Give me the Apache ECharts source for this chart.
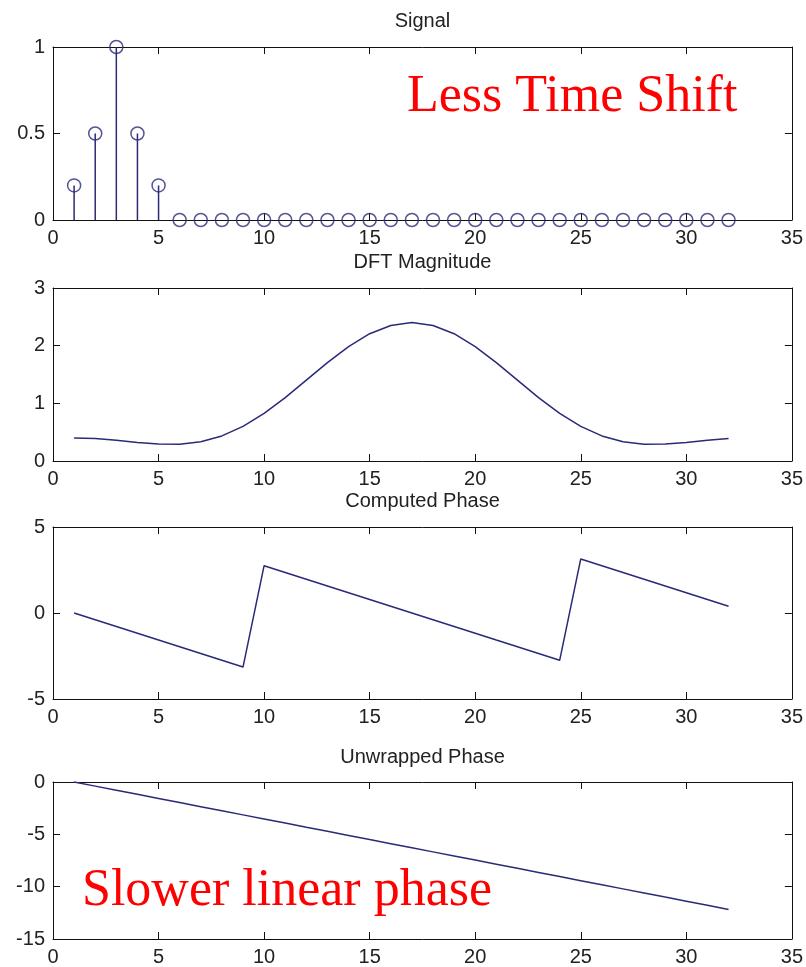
<!DOCTYPE html>
<html><head><meta charset="utf-8">
<script src="https://cdn.jsdelivr.net/npm/echarts@6/dist/echarts.min.js"></script>
<style>html,body{margin:0;padding:0;background:#fff}#c{width:806px;height:967px}</style>
</head><body><div id="c"></div>
<script>
// ---- data ----
const sampleIndex = [1,2,3,4,5,6,7,8,9,10,11,12,13,14,15,16,17,18,19,20,21,22,23,24,25,26,27,28,29,30,31,32];
const signal = [0.2,0.5,1,0.5,0.2,0,0,0,0,0,0,0,0,0,0,0,0,0,0,0,0,0,0,0,0,0,0,0,0,0,0,0];
const dftMagnitude = [0.4,0.389,0.359,0.322,0.293,0.291,0.335,0.435,0.6,0.826,1.1,1.403,1.707,1.985,2.207,2.35,2.4,2.35,2.207,1.985,1.707,1.403,1.1,0.826,0.6,0.435,0.335,0.291,0.293,0.322,0.359,0.389];
const computedPhase = [0,-0.393,-0.785,-1.178,-1.571,-1.963,-2.356,-2.749,-3.142,2.749,2.356,1.963,1.571,1.178,0.785,0.393,0,-0.393,-0.785,-1.178,-1.571,-1.963,-2.356,-2.749,3.142,2.749,2.356,1.963,1.571,1.178,0.785,0.393];
const unwrappedPhase = [0,-0.393,-0.785,-1.178,-1.571,-1.963,-2.356,-2.749,-3.142,-3.534,-3.927,-4.32,-4.712,-5.105,-5.498,-5.89,-6.283,-6.676,-7.069,-7.461,-7.854,-8.247,-8.639,-9.032,-9.425,-9.817,-10.21,-10.603,-10.996,-11.388,-11.781,-12.174];
const xTickRange = [0, 35, 5];
const yTickRanges = [[0, 1, 0.5], [0, 3, 1], [-5, 5, 5], [-15, 0, 5]];
const panelTitles = ['Signal', 'DFT Magnitude', 'Computed Phase', 'Unwrapped Phase'];
const annotations = ['Less Time Shift', 'Slower linear phase'];

// ---- layout / style ----
const gridBoxes = [
  {top: 47, height: 173},
  {top: 288, height: 173},
  {top: 527, height: 172},
  {top: 782, height: 157}
];
const LEFT = 53, RIGHT = 14;
const lineColor = '#2a2a78';
const axisColor = '#111';
const labelFont = {fontFamily: "'Liberation Sans', Arial, sans-serif", fontSize: 20, color: '#222'};

const pair = (xs, ys) => xs.map((x, i) => [x, ys[i]]);

const grids = gridBoxes.map(b => ({left: LEFT, right: RIGHT, top: b.top, height: b.height}));
const xAxes = [], yAxes = [];
gridBoxes.forEach((b, i) => {
  const common = {
    gridIndex: i, type: 'value',
    axisLine: {show: true, onZero: false, lineStyle: {color: axisColor, width: 1}},
    axisTick: {show: true, inside: true, length: 7, lineStyle: {color: axisColor, width: 1}},
    splitLine: {show: false}
  };
  xAxes.push(Object.assign({}, common, {
    position: 'bottom', min: xTickRange[0], max: xTickRange[1], interval: xTickRange[2],
    axisLabel: Object.assign({margin: 8, showMinLabel: true, showMaxLabel: true}, labelFont)
  }));
  xAxes.push(Object.assign({}, common, {
    position: 'top', min: xTickRange[0], max: xTickRange[1], interval: xTickRange[2],
    axisLabel: {show: false}
  }));
  const yr = yTickRanges[i];
  yAxes.push(Object.assign({}, common, {
    position: 'left', min: yr[0], max: yr[1], interval: yr[2],
    axisLabel: Object.assign({margin: 8, showMinLabel: true, showMaxLabel: true}, labelFont)
  }));
  yAxes.push(Object.assign({}, common, {
    position: 'right', min: yr[0], max: yr[1], interval: yr[2],
    axisLabel: {show: false}
  }));
});

const series = [
  {
    type: 'custom', xAxisIndex: 0, yAxisIndex: 0, clip: false, z: 3,
    data: pair(sampleIndex, signal),
    renderItem: (params, api) => {
      const p0 = api.coord([api.value(0), 0]);
      const p1 = api.coord([api.value(0), api.value(1)]);
      return {type: 'line', shape: {x1: p0[0], y1: p0[1], x2: p1[0], y2: p1[1]},
              style: {stroke: lineColor, lineWidth: 1.5}};
    }
  },
  {
    type: 'scatter', xAxisIndex: 0, yAxisIndex: 0, clip: false, z: 4,
    data: pair(sampleIndex, signal),
    symbol: 'circle', symbolSize: 13,
    itemStyle: {color: 'rgba(0,0,0,0)', borderColor: lineColor, borderWidth: 1.5}
  },
  {
    type: 'line', xAxisIndex: 2, yAxisIndex: 2, showSymbol: false,
    data: pair(sampleIndex, dftMagnitude), lineStyle: {color: lineColor, width: 1.5}
  },
  {
    type: 'line', xAxisIndex: 4, yAxisIndex: 4, showSymbol: false,
    data: pair(sampleIndex, computedPhase), lineStyle: {color: lineColor, width: 1.5}
  },
  {
    type: 'line', xAxisIndex: 6, yAxisIndex: 6, showSymbol: false, clip: false,
    data: pair(sampleIndex, unwrappedPhase), lineStyle: {color: lineColor, width: 1.5}
  }
];

const titleMids = [21, 262, 501, 757];
const graphics = panelTitles.map((t, i) => ({
  type: 'text', x: LEFT + (806 - LEFT - RIGHT) / 2, y: titleMids[i],
  style: {text: t, align: 'center', verticalAlign: 'middle',
          font: "20px 'Liberation Sans', Arial, sans-serif", fill: '#222'}
}));
graphics.push({
  type: 'text', x: 407, y: 97,
  style: {text: annotations[0], align: 'left', verticalAlign: 'middle',
          font: "52px 'Liberation Serif', 'Times New Roman', serif", fill: '#ff0000'}
});
graphics.push({
  type: 'text', x: 82, y: 891,
  style: {text: annotations[1], align: 'left', verticalAlign: 'middle',
          font: "52px 'Liberation Serif', 'Times New Roman', serif", fill: '#ff0000'}
});

const chart = echarts.init(document.getElementById('c'), null, {renderer: 'canvas'});
chart.setOption({
  animation: false,
  backgroundColor: '#fff',
  grid: grids,
  xAxis: xAxes,
  yAxis: yAxes,
  series: series,
  graphic: graphics
});
</script>
</body></html>
